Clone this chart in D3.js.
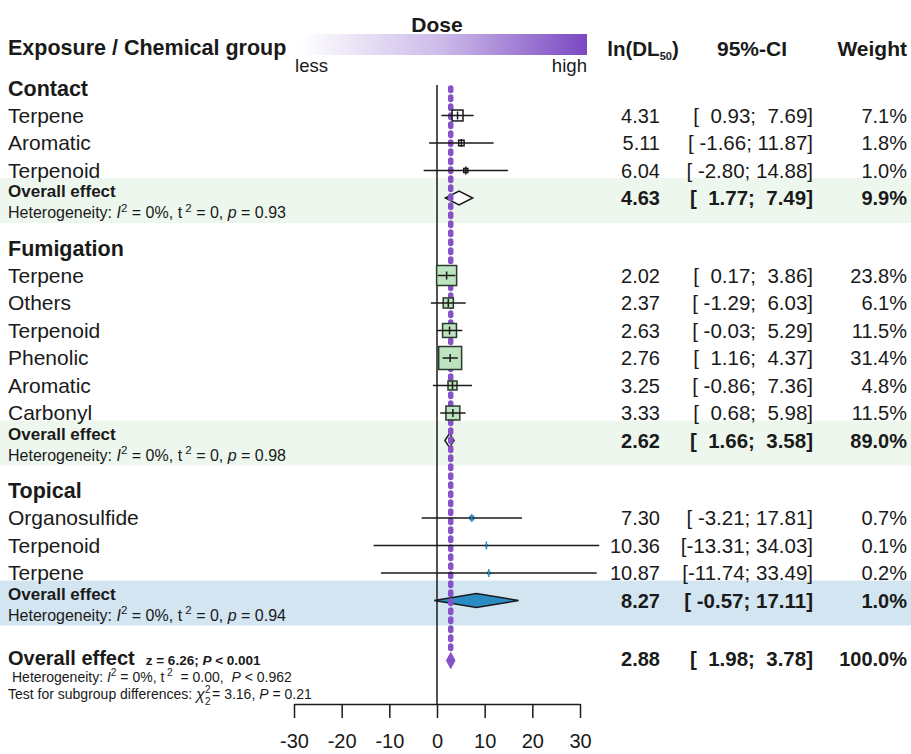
<!DOCTYPE html>
<html>
<head>
<meta charset="utf-8">
<script src="https://cdn.jsdelivr.net/npm/d3@7"></script>
<style>
  body { margin: 0; background: #fff; }
  svg text { font-family: 'Liberation Sans', Arial, sans-serif; fill: #1a1a1a; white-space: pre; }
</style>
</head>
<body>
<svg id="chart" width="911" height="754"></svg>
<script>
// ---- data ----
const groupNames = ['Contact', 'Fumigation', 'Topical'];

const studyGroup = ['Contact', 'Contact', 'Contact',
  'Fumigation', 'Fumigation', 'Fumigation', 'Fumigation', 'Fumigation', 'Fumigation',
  'Topical', 'Topical', 'Topical'];
const studyLabel = ['Terpene', 'Aromatic', 'Terpenoid',
  'Terpene', 'Others', 'Terpenoid', 'Phenolic', 'Aromatic', 'Carbonyl',
  'Organosulfide', 'Terpenoid', 'Terpene'];
const studyEst = [4.31, 5.11, 6.04, 2.02, 2.37, 2.63, 2.76, 3.25, 3.33, 7.30, 10.36, 10.87];
const studyLower = [0.93, -1.66, -2.80, 0.17, -1.29, -0.03, 1.16, -0.86, 0.68, -3.21, -13.31, -11.74];
const studyUpper = [7.69, 11.87, 14.88, 3.86, 6.03, 5.29, 4.37, 7.36, 5.98, 17.81, 34.03, 33.49];
const studyWeight = [7.1, 1.8, 1.0, 23.8, 6.1, 11.5, 31.4, 4.8, 11.5, 0.7, 0.1, 0.2];

const subEst = [4.63, 2.62, 8.27];
const subLower = [1.77, 1.66, -0.57];
const subUpper = [7.49, 3.58, 17.11];
const subWeight = [9.9, 89.0, 1.0];
const subHetTau = ['0', '0', '0'];
const subHetP = ['0.93', '0.98', '0.94'];

const overallEst = 2.88;
const overallLower = 1.98;
const overallUpper = 3.78;
const overallWeight = 100.0;

const axisTicks = [-30, -20, -10, 0, 10, 20, 30];

// ---- styling per group ----
const boxFill = { Contact: '#ffffff', Fumigation: '#bde3c0', Topical: '#2b8cc4' };
const boxStroke = { Contact: '#1a1a1a', Fumigation: '#2a3a2a', Topical: '#2b8cc4' };
const diamondFill = { Contact: '#ffffff', Fumigation: '#ffffff', Topical: '#2b8cc4' };
const bandFill = { Contact: '#eef7ee', Fumigation: '#eef7ee', Topical: '#d3e5f1' };
const purple = '#8652c8';

const svg = d3.select('#chart');
const x = d3.scaleLinear().domain([-30, 30]).range([294, 580]);
const boxSize = d3.scaleSqrt().domain([0, 23.8]).range([0, 20]);

const rowH = 27.5;
const fmt = (v) => v.toFixed(2);
const pct = (v) => `${v.toFixed(1)}%`;
const ciText = (lo, hi) => `[${fmt(lo).padStart(6, ' ')}; ${fmt(hi).padStart(5, ' ')}]`;

// layout rows
const rows = [];
const subRows = [];
let y = 88;
groupNames.forEach((g, gi) => {
  rows.push({ type: 'header', label: g, y });
  studyLabel.forEach((lab, i) => {
    if (studyGroup[i] !== g) return;
    y += rowH;
    rows.push({
      type: 'study', group: g, label: lab, y,
      est: studyEst[i], lo: studyLower[i], hi: studyUpper[i], w: studyWeight[i],
    });
  });
  y += rowH;
  subRows.push({
    group: g, y, est: subEst[gi], lo: subLower[gi], hi: subUpper[gi], w: subWeight[gi],
    tau: subHetTau[gi], p: subHetP[gi],
  });
  y += gi < groupNames.length - 1 ? 50 : 58;
});
const overallY = y;
const axisY = 704;

// ---- background bands for subgroup summaries ----
svg.selectAll('.band').data(subRows).enter().append('rect')
  .attr('class', 'band')
  .attr('x', 0).attr('width', 911)
  .attr('y', (d) => d.y - 20).attr('height', 45)
  .attr('fill', (d) => bandFill[d.group]);

// ---- header ----
const grad = svg.append('defs').append('linearGradient').attr('id', 'doseGrad');
grad.append('stop').attr('offset', '0%').attr('stop-color', '#ffffff');
grad.append('stop').attr('offset', '50%').attr('stop-color', '#cbb9e8');
grad.append('stop').attr('offset', '100%').attr('stop-color', '#7b48c2');

svg.append('rect').attr('x', 300).attr('y', 34).attr('width', 287).attr('height', 21)
  .attr('fill', 'url(#doseGrad)');
svg.append('text').attr('x', 437).attr('y', 32).attr('text-anchor', 'middle')
  .style('font-weight', 700).style('font-size', '21px').text('Dose');
svg.append('text').attr('x', 295).attr('y', 72)
  .style('font-size', '18.6px').text('less');
svg.append('text').attr('x', 587).attr('y', 72).attr('text-anchor', 'end')
  .style('font-size', '18.6px').text('high');

svg.append('text').attr('x', 8).attr('y', 55)
  .style('font-weight', 700).style('font-size', '21.5px').text('Exposure / Chemical group');

const lnHead = svg.append('text').attr('x', 643).attr('y', 56).attr('text-anchor', 'middle')
  .style('font-weight', 700).style('font-size', '20.5px');
lnHead.append('tspan').text('ln(DL');
lnHead.append('tspan').attr('dy', 4).style('font-size', '11px').text('50');
lnHead.append('tspan').attr('dy', -4).text(')');
svg.append('text').attr('x', 752).attr('y', 56).attr('text-anchor', 'middle')
  .style('font-weight', 700).style('font-size', '21px').text('95%-CI');
svg.append('text').attr('x', 907).attr('y', 56).attr('text-anchor', 'end')
  .style('font-weight', 700).style('font-size', '21px').text('Weight');

// ---- left labels ----
svg.selectAll('.groupLabel').data(rows.filter((r) => r.type === 'header')).enter()
  .append('text')
  .attr('class', 'groupLabel')
  .attr('x', 8).attr('y', (d) => d.y).attr('dy', '0.35em')
  .style('font-weight', 700).style('font-size', '21.5px')
  .text((d) => d.label);

const studyRows = rows.filter((r) => r.type === 'study');
svg.selectAll('.studyLabel').data(studyRows).enter()
  .append('text')
  .attr('class', 'studyLabel')
  .attr('x', 8).attr('y', (d) => d.y).attr('dy', '0.35em')
  .style('font-size', '21px')
  .text((d) => d.label);

// heterogeneity line helper
function hetText(sel, xPos, yPos, size, parts) {
  const t = sel.append('text').attr('x', xPos).attr('y', yPos).style('font-size', `${size}px`);
  parts.forEach((p) => {
    const ts = t.append('tspan').text(p.t);
    if (p.i) ts.style('font-style', 'italic');
    if (p.sup) ts.attr('dy', -size * 0.4).style('font-size', `${size * 0.72}px`);
    if (p.back) ts.attr('dy', size * 0.4);
  });
  return t;
}

subRows.forEach((d) => {
  svg.append('text').attr('x', 8).attr('y', d.y - 1)
    .style('font-weight', 700).style('font-size', '17px').text('Overall effect');
  hetText(svg, 8, d.y + 20, 16, [
    { t: 'Heterogeneity: ' }, { t: 'I', i: true }, { t: '2', sup: true },
    { t: ' = 0%, t', back: true }, { t: ' 2', sup: true },
    { t: ` = ${d.tau}, `, back: true }, { t: 'p', i: true }, { t: ` = ${d.p}` },
  ]);
});

// overall effect block
const ovLabel = svg.append('text').attr('x', 8).attr('y', overallY + 6)
  .style('font-weight', 700).style('font-size', '20px');
ovLabel.append('tspan').text('Overall effect');
ovLabel.append('tspan').attr('dx', 11).style('font-size', '13.5px').text('z = 6.26; ');
ovLabel.append('tspan').style('font-size', '13.5px').style('font-style', 'italic').text('P');
ovLabel.append('tspan').style('font-size', '13.5px').text(' < 0.001');

hetText(svg, 12, overallY + 23, 14, [
  { t: 'Heterogeneity: ' }, { t: 'I', i: true }, { t: '2', sup: true },
  { t: ' = 0%, t', back: true }, { t: ' 2', sup: true },
  { t: '  = 0.00,  ', back: true }, { t: 'P', i: true }, { t: ' < 0.962' },
]);

const testT = svg.append('text').attr('x', 8).attr('y', overallY + 40)
  .style('font-size', '14px').text('Test for subgroup differences: ');
const chiX = 8 + testT.node().getComputedTextLength();
svg.append('text').attr('x', chiX).attr('y', overallY + 41)
  .style('font-size', '16px').style('font-style', 'italic').text('χ');
svg.append('text').attr('x', chiX + 9).attr('y', overallY + 34)
  .style('font-size', '10px').text('2');
svg.append('text').attr('x', chiX + 9).attr('y', overallY + 46)
  .style('font-size', '10px').text('2');
const restT = svg.append('text').attr('x', chiX + 16).attr('y', overallY + 40)
  .style('font-size', '14px');
restT.append('tspan').text('= 3.16, ');
restT.append('tspan').style('font-style', 'italic').text('P');
restT.append('tspan').text(' = 0.21');

// ---- right columns ----
function valueCols(data, bold) {
  const g = svg.append('g').style('font-weight', bold ? 700 : 400);
  g.selectAll('.est').data(data).enter().append('text')
    .attr('x', 660).attr('y', (d) => d.y).attr('dy', '0.35em').attr('text-anchor', 'end')
    .style('font-size', '20px')
    .text((d) => fmt(d.est));
  g.selectAll('.ci').data(data).enter().append('text')
    .attr('x', 813).attr('y', (d) => d.y).attr('dy', '0.35em').attr('text-anchor', 'end')
    .style('font-size', '20.5px')
    .text((d) => ciText(d.lo, d.hi));
  g.selectAll('.wt').data(data).enter().append('text')
    .attr('x', 907).attr('y', (d) => d.y).attr('dy', '0.35em').attr('text-anchor', 'end')
    .style('font-size', '20px')
    .text((d) => pct(d.w));
}
valueCols(studyRows, false);
valueCols(subRows, true);
valueCols([{ y: overallY, est: overallEst, lo: overallLower, hi: overallUpper, w: overallWeight }], true);

// ---- plot area ----
const diamond = (d, h) => `M${x(d.lo)},${d.y}L${x(d.est)},${d.y - h}L${x(d.hi)},${d.y}L${x(d.est)},${d.y + h}Z`;

svg.append('line')
  .attr('x1', x(0)).attr('x2', x(0)).attr('y1', 85).attr('y2', axisY)
  .attr('stroke', '#1a1a1a').attr('stroke-width', 1.5);

svg.selectAll('.subDiamond').data(subRows).enter().append('path')
  .attr('class', 'subDiamond')
  .attr('d', (d) => diamond(d, 7))
  .attr('fill', (d) => diamondFill[d.group])
  .attr('stroke', '#1a1a1a').attr('stroke-width', 1.5);

// reference line at the overall estimate
svg.append('line')
  .attr('x1', x(overallEst)).attr('x2', x(overallEst))
  .attr('y1', 88).attr('y2', overallY - 6)
  .attr('stroke', purple).attr('stroke-width', 5.5)
  .attr('stroke-linecap', 'round').attr('stroke-dasharray', '2.5,6.5');
svg.append('path')
  .attr('d', diamond({ y: overallY + 2, est: overallEst, lo: overallLower, hi: overallUpper }, 8))
  .attr('fill', purple).attr('stroke', purple).attr('stroke-width', 1);

// study boxes and CIs
svg.selectAll('.box').data(studyRows).enter().append('rect')
  .attr('class', 'box')
  .attr('x', (d) => x(d.est) - boxSize(d.w) / 2)
  .attr('y', (d) => d.y - boxSize(d.w) / 2)
  .attr('width', (d) => boxSize(d.w))
  .attr('height', (d) => boxSize(d.w))
  .attr('fill', (d) => boxFill[d.group])
  .attr('stroke', (d) => boxStroke[d.group]).attr('stroke-width', 1.5);

svg.selectAll('.ciLine').data(studyRows).enter().append('line')
  .attr('class', 'ciLine')
  .attr('x1', (d) => x(d.lo)).attr('x2', (d) => x(d.hi))
  .attr('y1', (d) => d.y).attr('y2', (d) => d.y)
  .attr('stroke', '#1a1a1a').attr('stroke-width', 1.5);

svg.selectAll('.estTick').data(studyRows).enter().append('line')
  .attr('class', 'estTick')
  .attr('x1', (d) => x(d.est)).attr('x2', (d) => x(d.est))
  .attr('y1', (d) => d.y - 4).attr('y2', (d) => d.y + 4)
  .attr('stroke', (d) => (d.group === 'Topical' ? boxStroke.Topical : '#1a1a1a'))
  .attr('stroke-width', 1.5);

// ---- x axis ----
const axis = svg.append('g')
  .attr('transform', `translate(0,${axisY})`)
  .call(d3.axisBottom(x).tickValues(axisTicks).tickSize(14).tickSizeOuter(0).tickPadding(16)
    .tickFormat((d) => String(d)));
axis.select('.domain').attr('stroke', '#1a1a1a').attr('stroke-width', 1.5);
axis.selectAll('.tick line').attr('stroke', '#1a1a1a').attr('stroke-width', 1.5);
axis.selectAll('.tick text')
  .style('font-family', "'Liberation Sans', Arial, sans-serif")
  .style('font-size', '20px').attr('fill', '#1a1a1a');
</script>
</body>
</html>
